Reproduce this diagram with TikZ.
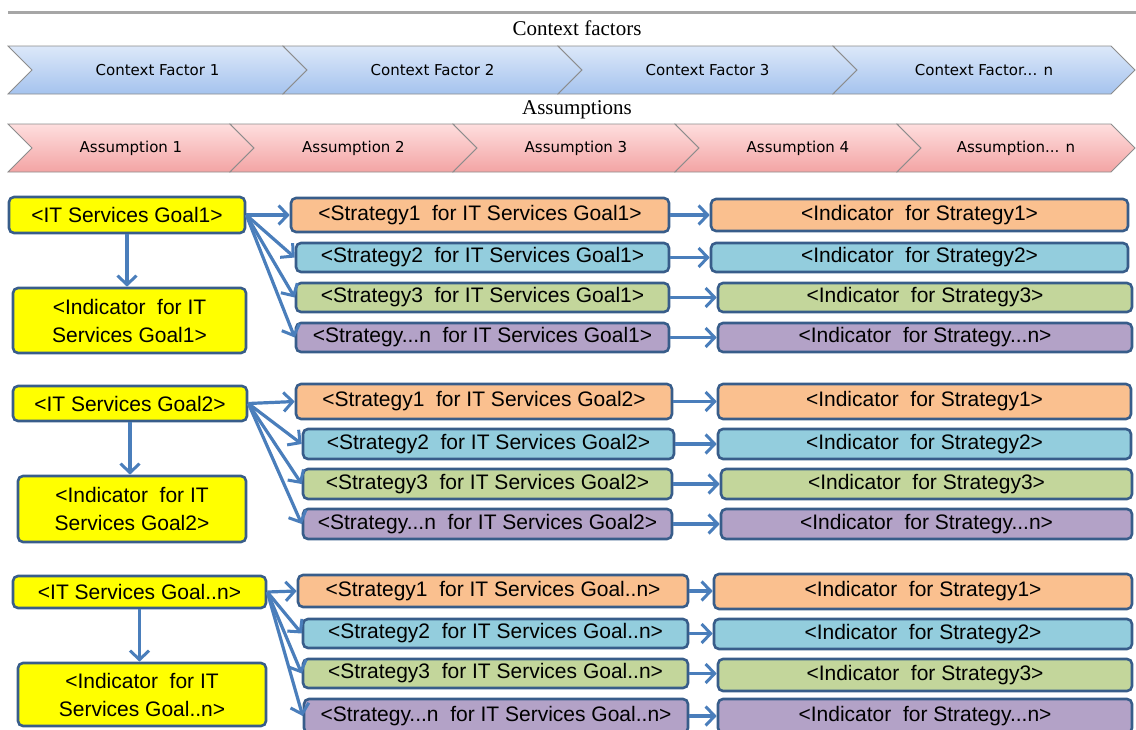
\documentclass[tikz,border=0pt]{standalone}
\usepackage{fontspec}
\setmainfont{Liberation Sans}
\newfontfamily\headfont{Liberation Serif}
\newfontfamily\chevfont{DejaVu Sans}
\usetikzlibrary{arrows.meta}

\definecolor{boxline}{HTML}{385D8A}
\definecolor{arrowblue}{HTML}{4A7EBB}
\definecolor{fillorange}{HTML}{FAC08F}
\definecolor{fillblue}{HTML}{93CDDD}
\definecolor{fillgreen}{HTML}{C3D69B}
\definecolor{fillpurple}{HTML}{B3A2C7}
\definecolor{fillyellow}{HTML}{FFFF00}
\definecolor{cfTop}{HTML}{DCE8F9}
\definecolor{cfBottom}{HTML}{A5C3EE}
\definecolor{asTop}{HTML}{FEDEDE}
\definecolor{asBottom}{HTML}{F3A4A4}
\definecolor{chevline}{HTML}{8C8C8C}
\definecolor{rulegray}{HTML}{A6A6A6}

\tikzset{
  sz/.style 2 args={minimum width=#1, minimum height=#2},
  box/.style={draw=boxline, line width=2.6pt, rounded corners=5pt, inner sep=0pt,
              font=\fontsize{21}{28}\selectfont, align=center},
  goal/.style={box, fill=fillyellow},
  sor/.style={box, fill=fillorange},
  sbl/.style={box, fill=fillblue},
  sgr/.style={box, fill=fillgreen},
  spu/.style={box, fill=fillpurple},
  arr/.style={draw=arrowblue, line width=3.2pt,
              -{Straight Barb[length=9pt,width=19pt,line width=3pt]}},
  cfchev/.style={draw=chevline, line width=0.8pt, top color=cfTop, bottom color=cfBottom},
  aschev/.style={draw=chevline, line width=0.8pt, top color=asTop, bottom color=asBottom},
  chevtext/.style={font=\chevfont\fontsize{15}{18}\selectfont, text=black},
  heading/.style={font=\headfont\fontsize{21}{24}\selectfont}
}

\begin{document}
\begin{tikzpicture}[x=1pt, y=-1pt]
\useasboundingbox (0,0) rectangle (1136,729);
\clip (0,0) rectangle (1136,729);

% rule and section headings
\draw[rulegray, line width=3pt] (8,12) -- (1136,12);
\node[heading] (hcf) at (577,28) {Context factors};
\node[heading] (has) at (577,110) {Assumptions};

% context factor chevrons
\foreach \a/\b/\t [count=\i] in {8/283/Context Factor 1, 283/558/Context Factor 2,
                                  558/833/Context Factor 3, 833/1111/{Context Factor... n}}{
  \draw[cfchev] (\a,46) -- (\b,46) -- (\b+24,70) -- (\b,94) -- (\a,94) -- (\a+24,70) -- cycle;
  \node[chevtext] (cf\i) at ({(\a+\b)/2+12},70) {\t};
}

% assumption chevrons
\foreach \a/\b/\t [count=\i] in {8/230/Assumption 1, 230/453/Assumption 2, 453/675/Assumption 3,
                                  675/897/Assumption 4, 897/1111/{Assumption... n}}{
  \draw[aschev] (\a,124) -- (\b,124) -- (\b+24,148) -- (\b,172) -- (\a,172) -- (\a+24,148) -- cycle;
  \node[chevtext] (as\i) at ({(\a+\b)/2+12},148) {\t};
}

% goal 1
\node[goal, sz={236}{36}] (g1) at (127,215) {<IT Services Goal1>};
\node[goal, sz={233}{65}] (y1) at (129.5,320.5) {<Indicator~ for IT\\Services Goal1>};
\node[sor, sz={378}{34}] (s11) at (480,215)   {<Strategy1~ for IT Services Goal1>};
\node[sbl, sz={373}{29}] (s12) at (482.5,257.5) {<Strategy2~ for IT Services Goal1>};
\node[sgr, sz={373}{29}] (s13) at (482.5,297.5) {<Strategy3~ for IT Services Goal1>};
\node[spu, sz={373}{29}] (s14) at (482.5,337.5) {<Strategy...n~ for IT Services Goal1>};
\node[sor, sz={417}{32}] (i11) at (919.5,215)   {<Indicator~ for Strategy1>};
\node[sbl, sz={417}{29}] (i12) at (919.5,257.5) {<Indicator~ for Strategy2>};
\node[sgr, sz={414}{29}] (i13) at (925,297.5)   {<Indicator~ for Strategy3>};
\node[spu, sz={414}{29}] (i14) at (925,337.5)   {<Indicator~ for Strategy...n>};

% goal 2
\node[goal, sz={234}{35}] (g2) at (130,403.5) {<IT Services Goal2>};
\node[goal, sz={228}{66}] (y2) at (132,509) {<Indicator~ for IT\\Services Goal2>};
\node[sor, sz={376}{35}] (s21) at (484,401.5)  {<Strategy1~ for IT Services Goal2>};
\node[sbl, sz={371}{30}] (s22) at (488.5,444)  {<Strategy2~ for IT Services Goal2>};
\node[sgr, sz={369}{30}] (s23) at (487.5,484)  {<Strategy3~ for IT Services Goal2>};
\node[spu, sz={369}{30}] (s24) at (487.5,524)  {<Strategy...n~ for IT Services Goal2>};
\node[sor, sz={413}{35}] (i21) at (924.5,401.5) {<Indicator~ for Strategy1>};
\node[sbl, sz={413}{30}] (i22) at (924.5,444)   {<Indicator~ for Strategy2>};
\node[sgr, sz={411}{30}] (i23) at (926.5,484)   {<Indicator~ for Strategy3>};
\node[spu, sz={411}{30}] (i24) at (926.5,524)   {<Indicator~ for Strategy...n>};

% goal n
\node[goal, sz={253}{32}] (g3) at (139.5,592) {<IT Services Goal..n>};
\node[goal, sz={248}{63}] (y3) at (142,694.5) {<Indicator~ for IT\\Services Goal..n>};
\node[sor, sz={390}{32}] (s31) at (493,591)    {<Strategy1~ for IT Services Goal..n>};
\node[sbl, sz={385}{29}] (s32) at (495.5,633.5) {<Strategy2~ for IT Services Goal..n>};
\node[sgr, sz={385}{29}] (s33) at (495.5,673.5) {<Strategy3~ for IT Services Goal..n>};
\node[spu, sz={384}{34}] (s34) at (496,716)    {<Strategy...n~ for IT Services Goal..n>};
\node[sor, sz={418}{35}] (i31) at (923,591.5)  {<Indicator~ for Strategy1>};
\node[sbl, sz={418}{30}] (i32) at (923,634)    {<Indicator~ for Strategy2>};
\node[sgr, sz={414}{32}] (i33) at (925,675)    {<Indicator~ for Strategy3>};
\node[spu, sz={414}{34}] (i34) at (925,716)    {<Indicator~ for Strategy...n>};

% connectors
\foreach \g in {1,2,3}{
  \draw[arr] (g\g.south) -- (g\g.south |- y\g.north);
  \foreach \k in {1,...,4}{
    \draw[arr] (g\g.east) -- (s\g\k.west);
    \draw[arr] (s\g\k.east) -- (s\g\k.east -| i\g\k.west);
  }
}
\end{tikzpicture}
\end{document}
